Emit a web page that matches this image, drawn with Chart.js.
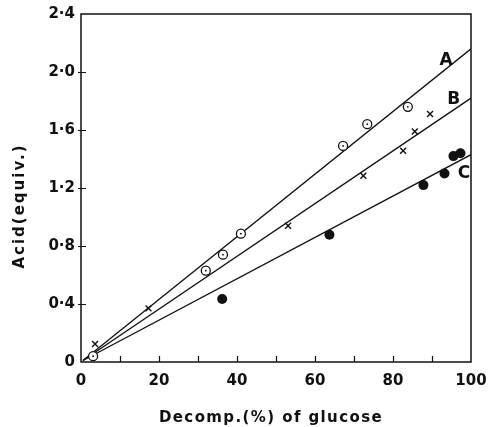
<!DOCTYPE html>
<html>
<head>
<meta charset="utf-8">
<script src="https://cdn.jsdelivr.net/npm/chart.js@4.4.1/dist/chart.umd.min.js"></script>
<style>
  html, body { margin: 0; padding: 0; background: #fff; }
  #wrap { width: 491px; height: 427px; position: relative; }
</style>
</head>
<body>
<div id="wrap"><canvas id="chart"></canvas></div>
<script>
// ─── Data ────────────────────────────────────────────────────────────────────

const X_MIN = 0, X_MAX = 100, X_STEP = 10;
const Y_MIN = 0, Y_MAX = 2.4, Y_STEP = 0.4;
const X_LABELED = [0, 20, 40, 60, 80, 100];

// open circles (curve A)
const seriesA = [
  { x: 3.1, y: 0.04 }, { x: 32.0, y: 0.63 }, { x: 36.4, y: 0.74 }, { x: 41.0, y: 0.885 },
  { x: 67.2, y: 1.49 }, { x: 73.4, y: 1.64 }, { x: 83.8, y: 1.76 }
];
// crosses (curve B)
const seriesB = [
  { x: 3.6, y: 0.124 }, { x: 17.3, y: 0.37 }, { x: 53.1, y: 0.94 }, { x: 72.4, y: 1.285 },
  { x: 82.6, y: 1.457 }, { x: 85.6, y: 1.59 }, { x: 89.5, y: 1.71 }
];
// filled circles (curve C)
const seriesC = [
  { x: 36.2, y: 0.434 }, { x: 63.7, y: 0.878 }, { x: 87.8, y: 1.22 },
  { x: 93.2, y: 1.30 }, { x: 95.5, y: 1.42 }, { x: 97.3, y: 1.44 }
];

// fitted straight lines (end points)
const lineA = [{ x: 0.5, y: 0.01 }, { x: 100, y: 2.16 }];
const lineB = [{ x: 0.5, y: 0.01 }, { x: 100, y: 1.82 }];
const lineC = [{ x: 0.5, y: 0.01 }, { x: 100, y: 1.43 }];

const curveLabels = [
  { text: 'A', x: 93.6, y: 2.08 },
  { text: 'B', x: 95.6, y: 1.81 },
  { text: 'C', x: 98.2, y: 1.30 }
];

const X_TITLE = 'Decomp.(%) of glucose';
const Y_TITLE = 'Acid(equiv.)';

const FONT = '"DejaVu Sans", sans-serif';

// ─── Helpers ─────────────────────────────────────────────────────────────────

function fmtY(v) {
  if (Math.abs(v) < 1e-9) return '0';
  return v.toFixed(1).replace('.', '\u00b7');
}

function lineSet(data) {
  return {
    data, showLine: true, borderColor: '#111', borderWidth: 1.3,
    pointRadius: 0, fill: false, tension: 0, order: 5
  };
}

// frame, inward ticks, curve letters, axis titles
const decor = {
  id: 'decor',
  afterDatasetsDraw(chart) {
    const { ctx, chartArea: a, scales: { x, y } } = chart;
    ctx.save();
    ctx.strokeStyle = '#111';
    ctx.lineWidth = 1.5;
    ctx.strokeRect(a.left, a.top, a.right - a.left, a.bottom - a.top);

    ctx.lineWidth = 1.2;
    ctx.beginPath();
    x.ticks.forEach(t => {
      if (t.value <= X_MIN || t.value >= X_MAX) return;
      const px = Math.round(x.getPixelForValue(t.value)) + 0.5;
      ctx.moveTo(px, a.bottom);
      ctx.lineTo(px, a.bottom - 6);
    });
    y.ticks.forEach(t => {
      if (t.value <= Y_MIN || t.value >= Y_MAX) return;
      const py = Math.round(y.getPixelForValue(t.value)) + 0.5;
      ctx.moveTo(a.left - 3, py);
      ctx.lineTo(a.left + 5, py);
    });
    ctx.stroke();

    ctx.fillStyle = '#111';
    ctx.font = 'bold 17px ' + FONT;
    ctx.textAlign = 'center';
    ctx.textBaseline = 'middle';
    curveLabels.forEach(l => {
      ctx.fillText(l.text, x.getPixelForValue(l.x), y.getPixelForValue(l.y));
    });

    // axis titles (spaced out like the print)
    ctx.font = 'bold 15px ' + FONT;
    ctx.letterSpacing = '1.4px';
    ctx.fillText(X_TITLE, 271, 418);
    ctx.translate(20, 206);
    ctx.rotate(-Math.PI / 2);
    ctx.letterSpacing = '2px';
    ctx.fillText(Y_TITLE, 0, 0);
    ctx.restore();
  }
};

// ─── Chart ───────────────────────────────────────────────────────────────────

new Chart(document.getElementById('chart'), {
  type: 'scatter',
  data: {
    datasets: [
      lineSet(lineA), lineSet(lineB), lineSet(lineC),
      {
        data: seriesA, pointStyle: 'circle', pointRadius: 4.5,
        pointBackgroundColor: '#fff', pointBorderColor: '#111', pointBorderWidth: 1.3, order: 2
      },
      {
        data: seriesA, pointStyle: 'circle', pointRadius: 0.9,
        pointBackgroundColor: '#111', pointBorderColor: '#111', pointBorderWidth: 0, order: 1
      },
      {
        data: seriesB, pointStyle: 'crossRot', pointRadius: 4.2,
        pointBorderColor: '#111', pointBorderWidth: 1.4, order: 2
      },
      {
        data: seriesC, pointStyle: 'circle', pointRadius: 5,
        pointBackgroundColor: '#111', pointBorderColor: '#111', pointBorderWidth: 0, order: 2
      }
    ]
  },
  options: {
    responsive: true,
    maintainAspectRatio: false,
    animation: false,
    layout: { padding: { top: 14, right: 20, left: 0, bottom: 0 } },
    plugins: { legend: { display: false }, tooltip: { enabled: false } },
    scales: {
      x: {
        type: 'linear', min: X_MIN, max: X_MAX,
        border: { display: false },
        grid: { display: false, drawTicks: false },
        ticks: {
          stepSize: X_STEP, autoSkip: false, padding: 10, color: '#111',
          font: { family: FONT, size: 15, weight: 'bold' },
          callback: v => X_LABELED.includes(v) ? String(v) : ''
        },
        afterFit: s => { s.height = 65; s.paddingRight = 0; s.paddingLeft = 0; }
      },
      y: {
        type: 'linear', min: Y_MIN, max: Y_MAX,
        border: { display: false },
        grid: { display: false, drawTicks: false },
        ticks: {
          stepSize: Y_STEP, padding: 6, color: '#111',
          font: { family: FONT, size: 15, weight: 'bold' },
          callback: v => fmtY(v)
        },
        afterFit: s => { s.width = 81; s.paddingTop = 0; s.paddingBottom = 0; }
      }
    }
  },
  plugins: [decor]
});
</script>
</body>
</html>
